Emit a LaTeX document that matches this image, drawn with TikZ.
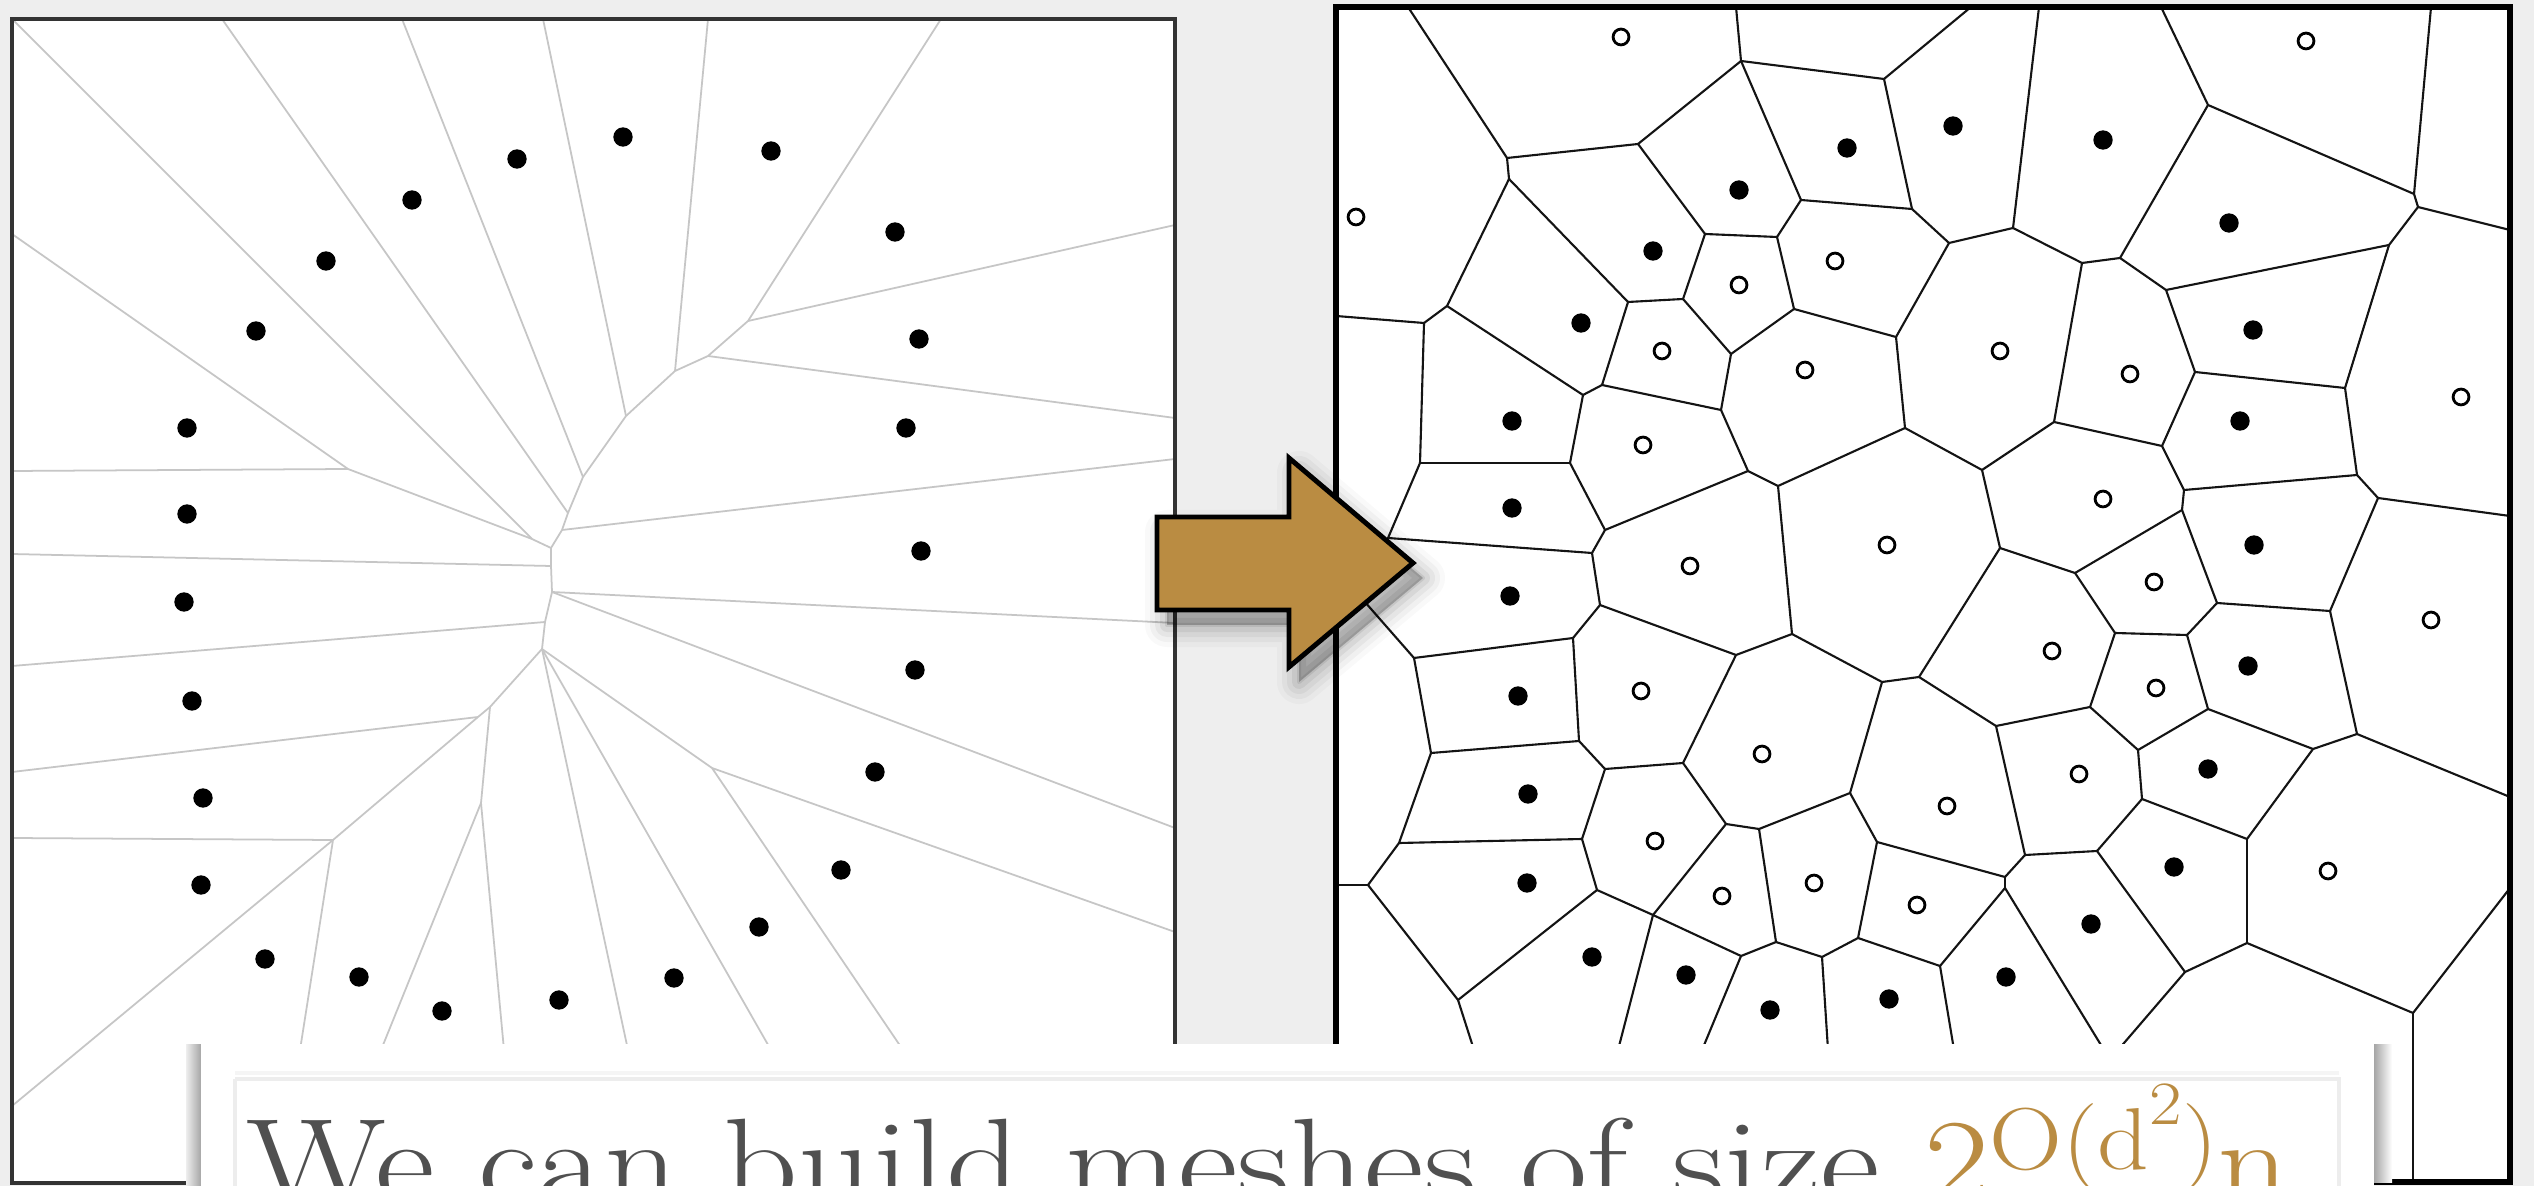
\documentclass[tikz,border=0pt]{standalone}
\usepackage{fontspec}
\usepackage{graphicx}
\definecolor{bggray}{HTML}{EEEEEE}
\definecolor{gold}{HTML}{BA8C42}
\definecolor{textgray}{HTML}{505050}
\definecolor{lgray}{HTML}{C6C6C6}
\begin{document}
\begin{tikzpicture}[x=0.01cm,y=-0.01cm,
  vedge/.style={draw=black!92, line width=0.6pt, line cap=round, line join=round},
  ledge/.style={draw=lgray, line width=0.5pt},
  fdot/.style={circle, fill=black, inner sep=0pt, minimum size=5.5pt},
  ldot/.style={circle, fill=black, inner sep=0pt, minimum size=5.5pt},
  odot/.style={circle, draw=black, line width=0.8pt, fill=white, inner sep=0pt, minimum size=4.5pt}]
\path[use as bounding box] (0,0) rectangle (2534,1186);
\clip (0,0) rectangle (2534,1186);
\fill[bggray] (0,0) rectangle (2534,1186);

% ---------------- left panel ----------------
\fill[white] (12,19) rectangle (1175,1183);
\coordinate (La) at (748,321);
\coordinate (Lb) at (708,356);
\coordinate (Lc) at (675,371);
\coordinate (Ld) at (626,416);
\coordinate (Le) at (583,477);
\coordinate (Lf) at (568,513);
\coordinate (Lg) at (562,530);
\coordinate (Lp1) at (551,548);
\coordinate (Lq1) at (532,539);
\coordinate (Ll1) at (348,469);
\coordinate (Lp1b) at (551,566);
\coordinate (Lp2) at (552,592);
\coordinate (Lp3) at (545,622);
\coordinate (Lp4) at (542,649);
\coordinate (Lp5) at (490,707);
\coordinate (Lp6) at (478,717);
\coordinate (Lp7) at (333,840);
\coordinate (Lp8) at (481,803);
\coordinate (Lp9) at (712,768);
\coordinate (lt0) at (12,19);
\coordinate (lt1) at (222,19);
\coordinate (lt2) at (402,19);
\coordinate (lt3) at (543,19);
\coordinate (lt4) at (708,19);
\coordinate (lt5) at (941,19);
\coordinate (lr1) at (1175,225);
\coordinate (lr2) at (1175,418);
\coordinate (lr3) at (1175,459);
\coordinate (lr4) at (1175,623);
\coordinate (lr5) at (1175,828);
\coordinate (lr6) at (1175,932);
\coordinate (ll1) at (12,234);
\coordinate (ll2) at (12,471);
\coordinate (ll3) at (12,554);
\coordinate (ll4) at (12,666);
\coordinate (ll5) at (12,772);
\coordinate (ll6) at (12,838);
\coordinate (ll7) at (12,1106);
\coordinate (lb1) at (300,1050);
\coordinate (lb2) at (381,1050);
\coordinate (lb3) at (504,1050);
\coordinate (lb4) at (628,1050);
\coordinate (lb5) at (771,1050);
\coordinate (lb6) at (903,1050);
\foreach \a/\b in {La/lt5, La/lr1, La/Lb, Lb/lr2, Lb/Lc, Lc/lt4, Lc/Ld, Ld/lt3, Ld/Le, Le/lt2, Le/Lf, Lf/lt1, Lf/Lg, Lg/lr3, Lg/Lp1, Lp1/Lq1, Lq1/lt0, Lq1/Ll1, Ll1/ll1, Ll1/ll2, Lp1/Lp1b, Lp1b/ll3, Lp1b/Lp2, Lp2/lr4, Lp2/lr5, Lp2/Lp3, Lp3/ll4, Lp3/Lp4, Lp4/Lp5, Lp4/Lp9, Lp4/lb4, Lp4/lb5, Lp5/Lp6, Lp5/Lp8, Lp6/ll5, Lp6/Lp7, Lp7/ll6, Lp7/ll7, Lp7/lb1, Lp8/lb2, Lp8/lb3, Lp9/lr6, Lp9/lb6}
  \draw[ledge] (\a) -- (\b);
\foreach \p [count=\i] in {(623,137),(771,151),(517,159),(412,200),(326,261),(256,331),(895,232),(919,339),(906,428),(187,428),(187,514),(921,551),(184,602),(915,670),(192,701),(875,772),(203,798),(841,870),(201,885),(759,927),(265,959),(674,978),(359,977),(559,1000),(442,1011)}
  \node[ldot] (ls\i) at \p {};
\draw[black!80, line width=0.9pt] (12,19) rectangle (1175,1183);

% ---------------- right panel ----------------
\fill[white] (1336,7) rectangle (2510,1182);
\coordinate (rA) at (1507,158);
\coordinate (rA2) at (1509,179);
\coordinate (rB) at (1638,144);
\coordinate (rE) at (1741,61);
\coordinate (rG) at (1884,79);
\coordinate (rH) at (1801,200);
\coordinate (rF) at (1705,234);
\coordinate (rJ) at (1777,237);
\coordinate (rI) at (1912,209);
\coordinate (rK) at (1683,299);
\coordinate (rD) at (1628,302);
\coordinate (rL) at (1794,309);
\coordinate (rM) at (1731,354);
\coordinate (rO) at (1896,337);
\coordinate (rC) at (1447,306);
\coordinate (rR) at (1424,323);
\coordinate (rS) at (1583,395);
\coordinate (rN) at (1602,385);
\coordinate (rP) at (1721,410);
\coordinate (rQ) at (1905,428);
\coordinate (rV) at (1748,471);
\coordinate (rW) at (1778,486);
\coordinate (rT) at (1420,463);
\coordinate (rU) at (1570,463);
\coordinate (rX) at (1605,530);
\coordinate (rZ) at (1592,553);
\coordinate (rY) at (1388,538);
\coordinate (rHV) at (1350,585);
\coordinate (rAA) at (2013,228);
\coordinate (rAB) at (1949,243);
\coordinate (rAC) at (2082,263);
\coordinate (rAD) at (2120,258);
\coordinate (rAF) at (2208,105);
\coordinate (rAH) at (2414,194);
\coordinate (rAI) at (2418,207);
\coordinate (rAJ) at (2389,245);
\coordinate (rAG) at (2166,290);
\coordinate (rAL) at (2195,372);
\coordinate (rAK) at (2345,388);
\coordinate (rAE) at (2054,422);
\coordinate (rAO) at (1982,470);
\coordinate (rAM) at (2162,446);
\coordinate (rAQ) at (2184,490);
\coordinate (rAN) at (2357,475);
\coordinate (rAT) at (2378,498);
\coordinate (rAS) at (2182,510);
\coordinate (rAP) at (2000,548);
\coordinate (rAU) at (2075,573);
\coordinate (rBA) at (1414,658);
\coordinate (rBB) at (1573,638);
\coordinate (rBD) at (1600,605);
\coordinate (rBF) at (1736,655);
\coordinate (rBG) at (1792,634);
\coordinate (rBI) at (1882,682);
\coordinate (rBZ) at (1919,677);
\coordinate (rBH) at (1683,763);
\coordinate (rBE) at (1579,741);
\coordinate (rBK) at (1605,769);
\coordinate (rBC) at (1431,753);
\coordinate (rBN) at (1399,843);
\coordinate (rBO) at (1368,885);
\coordinate (rBM) at (1582,839);
\coordinate (rBQ) at (1597,890);
\coordinate (rBR) at (1653,915);
\coordinate (rBL) at (1726,824);
\coordinate (rBT) at (1759,829);
\coordinate (rBJ) at (1850,793);
\coordinate (rBV) at (1877,842);
\coordinate (rBS) at (1741,956);
\coordinate (rBU) at (1776,942);
\coordinate (rBX) at (1822,957);
\coordinate (rBW) at (1858,938);
\coordinate (rBP) at (1458,1000);
\coordinate (rCA) at (2115,633);
\coordinate (rCB) at (2187,635);
\coordinate (rCD) at (2217,603);
\coordinate (rCF) at (2330,611);
\coordinate (rCG) at (2357,734);
\coordinate (rCH) at (2313,749);
\coordinate (rCE) at (2208,709);
\coordinate (rCC) at (2090,707);
\coordinate (rCJ) at (2138,750);
\coordinate (rCL) at (2142,799);
\coordinate (rCI) at (2247,839);
\coordinate (rCK) at (1996,726);
\coordinate (rCO) at (2025,855);
\coordinate (rCP) at (2005,877);
\coordinate (rCP2) at (2005,888);
\coordinate (rCQ) at (1940,966);
\coordinate (rCM) at (2097,851);
\coordinate (rCS) at (2185,972);
\coordinate (rCN) at (2247,943);
\coordinate (rCT) at (2413,1013);
\coordinate (rt1) at (1408,7);
\coordinate (rt2) at (1736,7);
\coordinate (rt3) at (1971,7);
\coordinate (rt4) at (2039,7);
\coordinate (rt5) at (2161,7);
\coordinate (rt6) at (2431,7);
\coordinate (rl1) at (1336,316);
\coordinate (rl2) at (1336,565);
\coordinate (rl3) at (1336,885);
\coordinate (re1) at (2510,230);
\coordinate (re2) at (2510,516);
\coordinate (re3) at (2510,797);
\coordinate (re4) at (2510,888);
\coordinate (rb1) at (1474,1050);
\coordinate (rb2) at (1618,1050);
\coordinate (rb3) at (1702,1050);
\coordinate (rb4) at (1828,1050);
\coordinate (rb5) at (1954,1050);
\coordinate (rb6) at (2104,1050);
\coordinate (rb7) at (2118,1050);
\coordinate (rb8) at (2413,1183);
\foreach \a/\b in {rt1/rA, rA/rB, rA/rA2, rA2/rC, rA2/rD, rB/rE, rB/rF, rE/rt2, rE/rG, rE/rH, rG/rt3, rG/rI, rH/rI, rH/rJ, rF/rJ, rF/rK, rJ/rL, rI/rAB, rK/rD, rK/rM, rD/rN, rL/rM, rL/rO, rM/rP, rO/rAB, rO/rQ, rC/rR, rC/rS, rR/rl1, rR/rT, rS/rN, rS/rU, rN/rP, rP/rV, rQ/rAO, rQ/rW, rV/rW, rV/rX, rW/rBG, rT/rU, rT/rY, rU/rX, rX/rZ, rZ/rY, rZ/rBD, rY/rHV, rHV/rl2, rHV/rBA,
  rAA/rt4, rAA/rAB, rAA/rAC, rAC/rAD, rAC/rAE, rAD/rAF, rAD/rAG, rAF/rt5, rAF/rAH, rAH/rt6, rAH/rAI, rAI/re1, rAI/rAJ, rAJ/rAG, rAJ/rAK, rAG/rAL, rAL/rAK, rAL/rAM, rAK/rAN, rAE/rAO, rAE/rAM, rAO/rAP, rAM/rAQ, rAQ/rAN, rAQ/rAS, rAN/rAT, rAT/re2, rAT/rCF, rAS/rAU, rAS/rCD, rAP/rAU, rAP/rBZ, rAU/rCA,
  rBA/rBB, rBA/rBC, rBB/rBD, rBB/rBE, rBD/rBF, rBF/rBG, rBF/rBH, rBG/rBI, rBI/rBZ, rBI/rBJ, rBZ/rCK, rBH/rBK, rBH/rBL, rBE/rBC, rBE/rBK, rBK/rBM, rBC/rBN, rBN/rBM, rBN/rBO, rBO/rl3, rBO/rBP, rBM/rBQ, rBQ/rBP, rBQ/rBR, rBR/rBL, rBR/rBS, rBR/rb2, rBL/rBT, rBT/rBJ, rBT/rBU, rBJ/rBV, rBV/rCP, rBV/rBW, rBS/rBU, rBS/rb3, rBU/rBX, rBX/rBW, rBX/rb4, rBW/rCQ, rBP/rb1,
  rCA/rCB, rCA/rCC, rCB/rCD, rCB/rCE, rCD/rCF, rCF/rCG, rCG/re3, rCG/rCH, rCH/rCE, rCH/rCI, rCE/rCJ, rCC/rCJ, rCC/rCK, rCJ/rCL, rCL/rCI, rCL/rCM, rCI/rCN, rCK/rCO, rCO/rCM, rCO/rCP, rCP/rCP2, rCP2/rCQ, rCP2/rb6, rCQ/rb5, rCM/rCS, rCS/rCN, rCS/rb7, rCN/rCT, rCT/re4, rCT/rb8}
  \draw[vedge] (\a) -- (\b);
\foreach \p [count=\i] in {(1847,148),(1739,190),(1653,251),(1581,323),(1512,421),(1512,508),(1510,596),(1518,696),(1528,794),(1527,883),(1592,957),(1686,975),(1770,1010),(1889,999),(2006,977),(2091,924),(2174,867),(2208,769),(2248,666),(2254,545),(2240,421),(2253,330),(2229,223),(2103,140),(1953,126)}
  \node[fdot] (rs\i) at \p {};
\foreach \p [count=\i] in {(1621,37),(2306,41),(1356,217),(1739,285),(1835,261),(1662,351),(1805,370),(2000,351),(2130,374),(2461,397),(1643,445),(2103,499),(1887,545),(1690,566),(2154,582),(2431,620),(1641,691),(2052,651),(2156,688),(1762,754),(2079,774),(1947,806),(1655,841),(2328,871),(1722,896),(1814,883),(1917,905)}
  \node[odot] (ro\i) at \p {};
\draw[black, line width=1.5pt] (1336,7) rectangle (2510,1182);

% ---------------- arrow ----------------
\foreach \w/\o in {44/0.025, 34/0.035, 24/0.045, 14/0.06, 4/0.08}
  \filldraw[black, opacity=\o, line width=\w*0.2845pt, line join=round, shift={(10,15)}]
    (1157,517) -- (1289,517) -- (1289,458) -- (1413,563) -- (1289,667) -- (1289,610) -- (1157,610) -- cycle;
\filldraw[fill=gold, draw=black, line width=1.4pt, line join=miter]
  (1157,517) -- (1289,517) -- (1289,458) -- (1413,563) -- (1289,667) -- (1289,610) -- (1157,610) -- cycle;

% ---------------- caption ----------------
\shade[left color=bggray, right color=black!35] (186,1044) rectangle (201,1200);
\shade[left color=black!35, right color=white] (2374,1044) rectangle (2392,1182);
\fill[white] (201,1044) rectangle (2374,1200);
\draw[black!4, line width=1pt] (235,1073) -- (2339,1073);
\draw[black!7, line width=1.2pt] (235,1079) -- (2339,1079) -- (2339,1200);
\draw[black!7, line width=1.2pt] (235,1079) -- (235,1200);
\node[anchor=base west, text=textgray, inner sep=0pt] (cap) at (246,1204)
  {\fontsize{35}{42}\selectfont\addfontfeatures{FakeBold=0.7}\scalebox{1.188}[1]{We can build meshes of size~}\textcolor{gold}{\scalebox{1.15}[1]{2\raisebox{9.7pt}{\fontsize{25}{29}\selectfont O(d\raisebox{13pt}{\fontsize{17.5}{21}\selectfont 2})}n}}};
\end{tikzpicture}
\end{document}
